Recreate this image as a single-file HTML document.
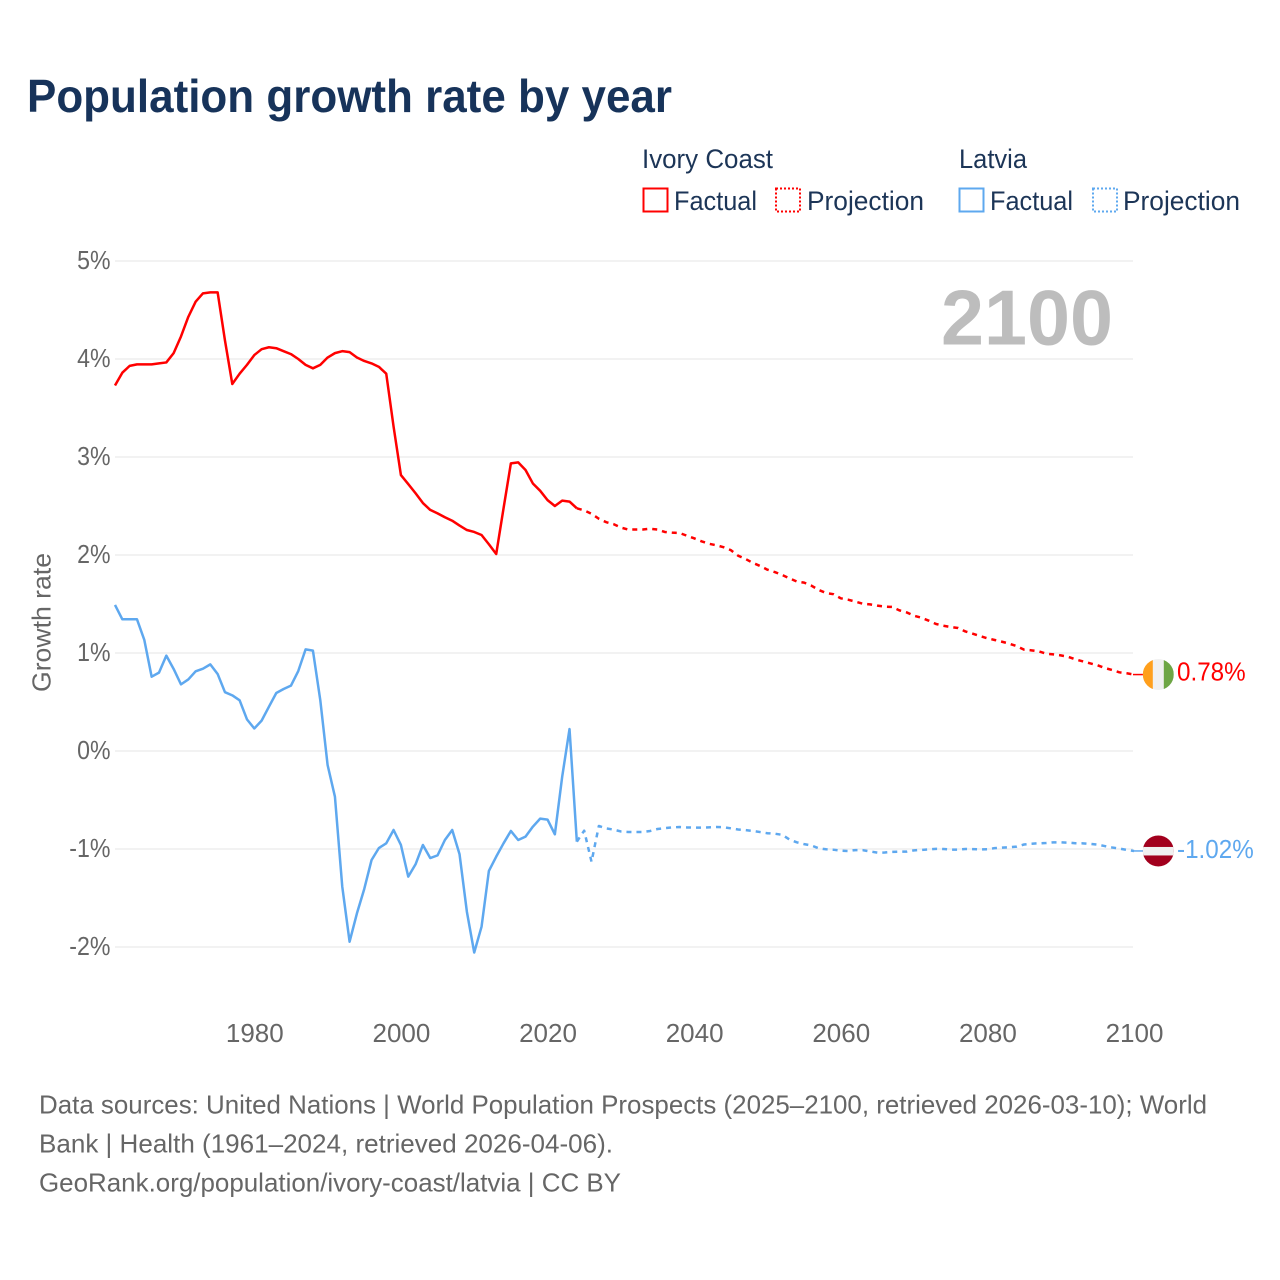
<!DOCTYPE html>
<html lang="en">
<head>
<meta charset="utf-8">
<title>Population growth rate by year</title>
<style>
html,body{margin:0;padding:0;background:#fff;}
svg{display:block;font-family:"Liberation Sans",Arial,sans-serif;}
</style>
</head>
<body>
<svg id="chart" xmlns="http://www.w3.org/2000/svg" width="1280" height="1280" viewBox="0 0 1280 1280">
  <rect x="0" y="0" width="1280" height="1280" fill="#ffffff"/>
  <text x="27" y="112" font-size="46.5" font-weight="700" fill="#17335a" textLength="645" lengthAdjust="spacingAndGlyphs">Population growth rate by year</text>

  <g font-size="26.5" fill="#1c3557">
    <text x="642" y="168" textLength="131" lengthAdjust="spacingAndGlyphs">Ivory Coast</text>
    <text x="959" y="168" textLength="68" lengthAdjust="spacingAndGlyphs">Latvia</text>
    <g>
      <rect x="643.5" y="188.5" width="24" height="23" fill="none" stroke="#ff0000" stroke-width="2"/>
      <text x="674" y="210" textLength="83" lengthAdjust="spacingAndGlyphs">Factual</text>
    </g>
    <g>
      <rect x="776" y="188.5" width="24" height="23" fill="none" stroke="#ff0000" stroke-width="2" stroke-dasharray="2 2"/>
      <text x="807" y="210" textLength="117" lengthAdjust="spacingAndGlyphs">Projection</text>
    </g>
    <g>
      <rect x="959.5" y="188.5" width="24" height="23" fill="none" stroke="#5ea8ef" stroke-width="2"/>
      <text x="990" y="210" textLength="83" lengthAdjust="spacingAndGlyphs">Factual</text>
    </g>
    <g>
      <rect x="1093" y="188.5" width="24" height="23" fill="none" stroke="#5ea8ef" stroke-width="2" stroke-dasharray="2 2"/>
      <text x="1123" y="210" textLength="117" lengthAdjust="spacingAndGlyphs">Projection</text>
    </g>
  </g>

  <g id="grid"></g>
  <g id="yticks"></g>
  <g id="xticks"></g>
  <text transform="translate(50.5,622.5) rotate(-90)" text-anchor="middle" font-size="26" fill="#666666" textLength="139" lengthAdjust="spacingAndGlyphs">Growth rate</text>
  <text x="1113" y="344.5" text-anchor="end" font-size="78" font-weight="700" fill="#bdbdbd" textLength="172" lengthAdjust="spacingAndGlyphs">2100</text>
  <g id="series"></g>
  <g id="ends"></g>

  <g font-size="26" fill="#666666">
    <text x="39" y="1113.5" textLength="1168" lengthAdjust="spacingAndGlyphs">Data sources: United Nations | World Population Prospects (2025–2100, retrieved 2026-03-10); World</text>
    <text x="39" y="1152.5" textLength="574" lengthAdjust="spacingAndGlyphs">Bank | Health (1961–2024, retrieved 2026-04-06).</text>
    <text x="39" y="1191.5" textLength="582" lengthAdjust="spacingAndGlyphs">GeoRank.org/population/ivory-coast/latvia | CC BY</text>
  </g>
</svg>
<script>
const yTickValues = [5, 4, 3, 2, 1, 0, -1, -2];
const yTickLabels = ['5%', '4%', '3%', '2%', '1%', '0%', '-1%', '-2%'];
const xTickYears = [1980, 2000, 2020, 2040, 2060, 2080, 2100];
const factualStartYear = 1961;
const projectionStartYear = 2024;
const ivoryCoastFactual = [3.73,3.86,3.93,3.945,3.945,3.945,3.955,3.965,4.06,4.23,4.43,4.585,4.67,4.68,4.68,4.19,3.745,3.85,3.94,4.04,4.10,4.12,4.11,4.08,4.05,4.0,3.94,3.905,3.94,4.015,4.06,4.08,4.07,4.015,3.98,3.955,3.92,3.85,3.31,2.816,2.724,2.63,2.53,2.46,2.425,2.385,2.35,2.30,2.255,2.235,2.204,2.11,2.01,2.476,2.935,2.945,2.867,2.73,2.655,2.56,2.50,2.555,2.545,2.476];
const ivoryCoastProjection = [2.476,2.455,2.42,2.37,2.335,2.315,2.28,2.26,2.26,2.26,2.268,2.26,2.235,2.228,2.225,2.197,2.17,2.14,2.115,2.10,2.08,2.05,1.993,1.96,1.92,1.888,1.85,1.826,1.796,1.762,1.73,1.718,1.687,1.643,1.612,1.60,1.558,1.544,1.524,1.503,1.496,1.483,1.473,1.47,1.435,1.414,1.38,1.36,1.33,1.296,1.278,1.265,1.255,1.22,1.197,1.173,1.15,1.133,1.115,1.095,1.07,1.034,1.027,1.017,0.993,0.986,0.976,0.962,0.935,0.915,0.895,0.875,0.847,0.827,0.803,0.793,0.78];
const latviaFactual = [1.49,1.344,1.344,1.344,1.133,0.758,0.80,0.973,0.837,0.68,0.73,0.813,0.84,0.884,0.786,0.60,0.568,0.517,0.323,0.23,0.31,0.452,0.592,0.633,0.667,0.816,1.037,1.024,0.52,-0.143,-0.466,-1.384,-1.946,-1.657,-1.408,-1.112,-0.99,-0.942,-0.806,-0.959,-1.282,-1.156,-0.959,-1.092,-1.065,-0.908,-0.806,-1.054,-1.64,-2.056,-1.793,-1.224,-1.078,-0.942,-0.816,-0.908,-0.874,-0.772,-0.69,-0.70,-0.85,-0.262,0.224,-0.925];
const latviaProjection = [-0.925,-0.813,-1.13,-0.765,-0.79,-0.802,-0.821,-0.826,-0.827,-0.827,-0.816,-0.796,-0.787,-0.779,-0.776,-0.78,-0.782,-0.782,-0.779,-0.776,-0.778,-0.789,-0.801,-0.807,-0.816,-0.827,-0.839,-0.844,-0.855,-0.903,-0.932,-0.95,-0.964,-0.993,-1.003,-1.007,-1.017,-1.02,-1.011,-1.012,-1.025,-1.037,-1.036,-1.029,-1.027,-1.027,-1.014,-1.009,-1.004,-0.999,-1.0,-1.006,-1.006,-1.0,-1.001,-1.004,-1.003,-0.991,-0.986,-0.982,-0.976,-0.954,-0.946,-0.942,-0.939,-0.932,-0.932,-0.935,-0.941,-0.942,-0.948,-0.955,-0.97,-0.984,-0.996,-1.009,-1.02];

const SVG_NS = 'http://www.w3.org/2000/svg';
const RED = '#ff0000';
const BLUE = '#5ea8ef';
const xScale = function (year) { return 115 + (year - 1961) * (1134 - 115) / 139; };
const yScale = function (value) { return 751 - value * 98; };
const make = function (tag, attrs) {
  const el = document.createElementNS(SVG_NS, tag);
  Object.keys(attrs).forEach(function (k) { el.setAttribute(k, attrs[k]); });
  return el;
};
const gridGroup = document.getElementById('grid');
const yTickGroup = document.getElementById('yticks');
const xTickGroup = document.getElementById('xticks');
const seriesGroup = document.getElementById('series');
const endGroup = document.getElementById('ends');

yTickValues.forEach(function (value, i) {
  const line = make('line', {x1: 115, x2: 1133, y1: yScale(value), y2: yScale(value), stroke: '#e6e6e6', 'stroke-width': 1});
  
  
  gridGroup.appendChild(line);
  const label = make('text', {x: 110.5, y: yScale(value) + 8, 'text-anchor': 'end', 'font-size': 26, fill: '#666666'});
  
  
  label.textContent = yTickLabels[i];
  yTickGroup.appendChild(label);
  label.setAttribute('textLength', (label.getComputedTextLength() * 0.89).toFixed(1));
  label.setAttribute('lengthAdjust', 'spacingAndGlyphs');
});

xTickYears.forEach(function (year) {
  const label = make('text', {x: xScale(year) + 0.5, y: 1042, 'text-anchor': 'middle', 'font-size': 26, fill: '#666666'});
  
  
  label.textContent = String(year);
  xTickGroup.appendChild(label);
});

const pathFor = function (values, startYear) {
  return values.map(function (v, i) {
    return (i ? 'L' : 'M') + xScale(startYear + i).toFixed(2) + ' ' + yScale(v).toFixed(2);
  }).join(' ');
};
const drawLine = function (values, startYear, color, dashed, name) {
  const attrs = {d: pathFor(values, startYear), fill: 'none', stroke: color, 'stroke-width': 2.5, 'stroke-linejoin': 'round'};
  if (dashed) { attrs['stroke-dasharray'] = '5 5'; }
  const p = make('path', attrs);
  
  
  seriesGroup.appendChild(p);
};
drawLine(ivoryCoastFactual, factualStartYear, RED, false, 'ivory-coast-factual-line');
drawLine(ivoryCoastProjection, projectionStartYear, RED, true, 'ivory-coast-projection-line');
drawLine(latviaFactual, factualStartYear, BLUE, false, 'latvia-factual-line');
drawLine(latviaProjection, projectionStartYear, BLUE, true, 'latvia-projection-line');

const formatPct = function (v) { return v.toFixed(2) + '%'; };
const drawEnd = function (values, color, name, labelDrop, bands) {
  const last = values[values.length - 1];
  const cy = yScale(last);
  const cx = xScale(2100) + 24.3;
  const leader = make('line', {x1: xScale(2100) - 1, x2: cx - 12, y1: cy, y2: cy, stroke: color, 'stroke-width': 1.5});
  
  
  endGroup.appendChild(leader);
  const flag = make('svg', {x: cx - 15.5, y: cy - 15.5, width: 31, height: 31, viewBox: '0 0 31 31'});
  
  
  const clipId = 'clip-' + name;
  const clip = make('clipPath', {id: clipId});
  clip.appendChild(make('circle', {cx: 15.5, cy: 15.5, r: 15.5}));
  flag.appendChild(clip);
  const body = make('g', {'clip-path': 'url(#' + clipId + ')'});
  bands(body);
  flag.appendChild(body);
  endGroup.appendChild(flag);
  const label = make('text', {x: cx + 18.7, y: cy + labelDrop, 'font-size': 26, fill: color});
  
  
  label.textContent = formatPct(last);
  endGroup.appendChild(label);
  label.setAttribute('textLength', (label.getComputedTextLength() * 0.932).toFixed(1));
  label.setAttribute('lengthAdjust', 'spacingAndGlyphs');
};
drawEnd(ivoryCoastProjection, RED, 'ivory-coast', 5.8, function (g) {
  g.appendChild(make('rect', {x: 0, y: 0, width: 31, height: 31, fill: '#f0f0f0'}));
  g.appendChild(make('rect', {x: 0, y: 0, width: 10, height: 31, fill: '#ff9f1c'}));
  g.appendChild(make('rect', {x: 21, y: 0, width: 10, height: 31, fill: '#6da544'}));
});
drawEnd(latviaProjection, BLUE, 'latvia', 7, function (g) {
  g.appendChild(make('rect', {x: 0, y: 0, width: 31, height: 31, fill: '#a2001d'}));
  g.appendChild(make('rect', {x: 0, y: 11.5, width: 31, height: 8.5, fill: '#f0f0f0'}));
});
</script>
</body>
</html>
